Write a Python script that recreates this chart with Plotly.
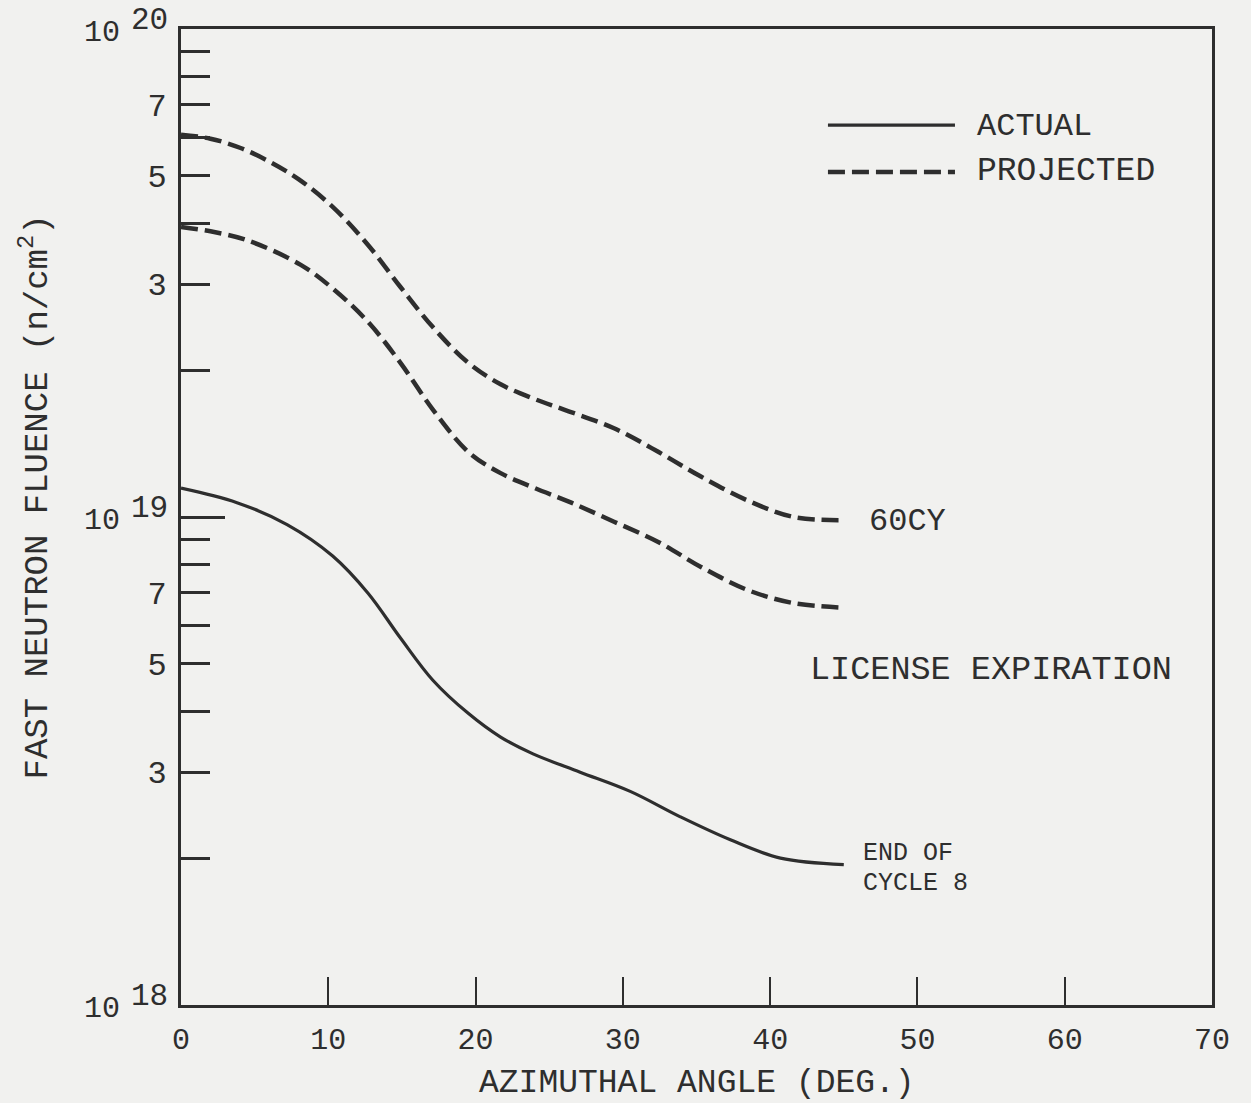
import plotly.graph_objects as go

# ---- data ----
angle_60cy = [0, 2, 4, 6, 8, 10.3, 12.7, 14.9, 17.1, 19.5, 21.7, 23.9, 26.0, 29.4, 32.4,
              35.3, 38.5, 41.6, 45]
fluence_60cy = [6.07e19, 5.96e19, 5.71e19, 5.35e19, 4.92e19, 4.32e19, 3.61e19, 2.96e19,
                2.45e19, 2.07e19, 1.87e19, 1.75e19, 1.66e19, 1.52e19, 1.36e19, 1.21e19,
                1.08e19, 1.00e19, 0.985e19]

angle_lic = [0, 2, 4.5, 8.1, 10.3, 12.7, 14.9, 17.1, 19.5, 21.7, 23.9, 26.5, 29.4, 32.4,
             35.3, 38.5, 41.6, 45]
fluence_lic = [3.93e19, 3.85e19, 3.69e19, 3.29e19, 2.94e19, 2.51e19, 2.07e19, 1.66e19,
               1.36e19, 1.23e19, 1.15e19, 1.07e19, 9.78e18, 8.89e18, 7.9e18, 7.08e18,
               6.66e18, 6.52e18]

angle_act = [0, 3.8, 7.2, 10.3, 12.7, 14.9, 17.1, 19.5, 21.7, 23.9, 27.1, 30.5,
             33.9, 37.3, 40.7, 45]
fluence_act = [1.146e19, 1.07e19, 9.65e18, 8.32e18, 6.98e18, 5.65e18, 4.63e18, 3.96e18,
               3.54e18, 3.27e18, 3.00e18, 2.74e18, 2.43e18, 2.18e18, 2.00e18, 1.94e18]

x_ticks = [0, 10, 20, 30, 40, 50, 60, 70]
y_minor = [float(m) * 10.0 ** e for e in (18, 19) for m in range(2, 10)]
y_labeled = {3e18: "3", 5e18: "5", 7e18: "7", 3e19: "3", 5e19: "5", 7e19: "7"}

INK = "#2e2e2e"
BG = "#f1f1ef"
FONT = "Liberation Mono"

fig = go.Figure()
dash = "17px,7px"
fig.add_trace(go.Scatter(x=angle_60cy, y=fluence_60cy, mode="lines",
                         line=dict(color=INK, width=4.5, dash=dash, shape="spline", smoothing=1),
                         showlegend=False))
fig.add_trace(go.Scatter(x=angle_lic, y=fluence_lic, mode="lines",
                         line=dict(color=INK, width=4.5, dash=dash, shape="spline", smoothing=1),
                         showlegend=False))
fig.add_trace(go.Scatter(x=angle_act, y=fluence_act, mode="lines",
                         line=dict(color=INK, width=3.2, shape="spline", smoothing=1),
                         showlegend=False))
# invisible trace on the overlay axis so it is drawn
fig.add_trace(go.Scatter(x=[0.0], y=[1e19], yaxis="y2", mode="markers",
                         marker=dict(opacity=0), showlegend=False, hoverinfo="skip"))

def lbl(v):
    for k, t in y_labeled.items():
        if abs(v - k) / k < 1e-6:
            return t
    return ""

fig.update_layout(
    width=1251, height=1103,
    margin=dict(l=181, r=39, t=29, b=98),
    paper_bgcolor=BG, plot_bgcolor=BG,
    font=dict(family=FONT, color=INK, size=28),
    xaxis=dict(range=[0, 70], tickvals=x_ticks, ticktext=[str(v) for v in x_ticks],
               ticks="inside", ticklen=28, tickwidth=2, tickcolor=INK,
               showline=True, linewidth=3, linecolor=INK, mirror=True,
               showgrid=False, zeroline=False, ticklabelstandoff=5,
               tickfont=dict(family=FONT, size=30, color=INK)),
    yaxis=dict(type="log", range=[18, 20], tickvals=y_minor,
               ticktext=[lbl(v) for v in y_minor],
               ticks="inside", ticklen=29, tickwidth=3, tickcolor=INK,
               showline=True, linewidth=3, linecolor=INK, mirror=True,
               showgrid=False, zeroline=False, ticklabelstandoff=5,
               tickfont=dict(family=FONT, size=32, color=INK)),
    yaxis2=dict(type="log", range=[18, 20], overlaying="y", side="left",
                tickvals=[1e19], ticktext=[""], ticks="inside", ticklen=44,
                tickwidth=3, tickcolor=INK, showgrid=False, zeroline=False,
                showline=False),
)

# axis titles
fig.add_annotation(text="AZIMUTHAL ANGLE (DEG.)", x=0.5, y=-0.08, xref="paper", yref="paper",
                   xanchor="center", yanchor="middle", showarrow=False,
                   font=dict(family=FONT, size=33, color=INK))
fig.add_annotation(text="FAST NEUTRON FLUENCE (n/cm<sup>2</sup>)", x=-0.1416, y=0.520,
                   xref="paper", yref="paper", textangle=-90, xanchor="center",
                   yanchor="middle", showarrow=False,
                   font=dict(family=FONT, size=34, color=INK))

# legend samples
fig.add_shape(type="line", xref="paper", yref="paper", x0=0.6275, x1=0.7507, y0=0.9016, y1=0.9016,
              line=dict(color=INK, width=3.2))
fig.add_shape(type="line", xref="paper", yref="paper", x0=0.6275, x1=0.7507, y0=0.8535, y1=0.8535,
              line=dict(color=INK, width=4.5, dash=dash))
anns = [
    dict(text="ACTUAL", x=0.770, y=0.9016, xref="paper", yref="paper", size=32, dy=-1),
    dict(text="PROJECTED", x=0.770, y=0.8535, xref="paper", yref="paper", size=33, dy=0),
    dict(text="60CY", x=46.6, y=18.994, xref="x", yref="y", size=32, dy=-2),
    dict(text="LICENSE EXPIRATION", x=42.6, y=18.690, xref="x", yref="y", size=33.5, dy=-2),
    dict(text="END OF", x=46.2, y=18.314, xref="x", yref="y", size=25, dy=-2),
    dict(text="CYCLE 8", x=46.2, y=18.252, xref="x", yref="y", size=25, dy=-1),
]
for a in anns:
    fig.add_annotation(text=a["text"], x=a["x"], y=a["y"], xref=a["xref"], yref=a["yref"],
                       xanchor="left", yanchor="middle", showarrow=False, yshift=a["dy"],
                       font=dict(family=FONT, size=a["size"], color=INK))

# decade labels 10^n (base + superscript)
for exp in (20, 19, 18):
    fig.add_annotation(text="10", x=-0.057, y=float(exp), xref="paper", yref="y", xanchor="right",
                       yanchor="middle", yshift=-4, showarrow=False,
                       font=dict(family=FONT, size=30, color=INK))
    fig.add_annotation(text=str(exp), x=-0.011, y=float(exp), xref="paper", yref="y", xanchor="right",
                       yanchor="middle", yshift=9, showarrow=False,
                       font=dict(family=FONT, size=31, color=INK))

fig.write_html("out.html")
